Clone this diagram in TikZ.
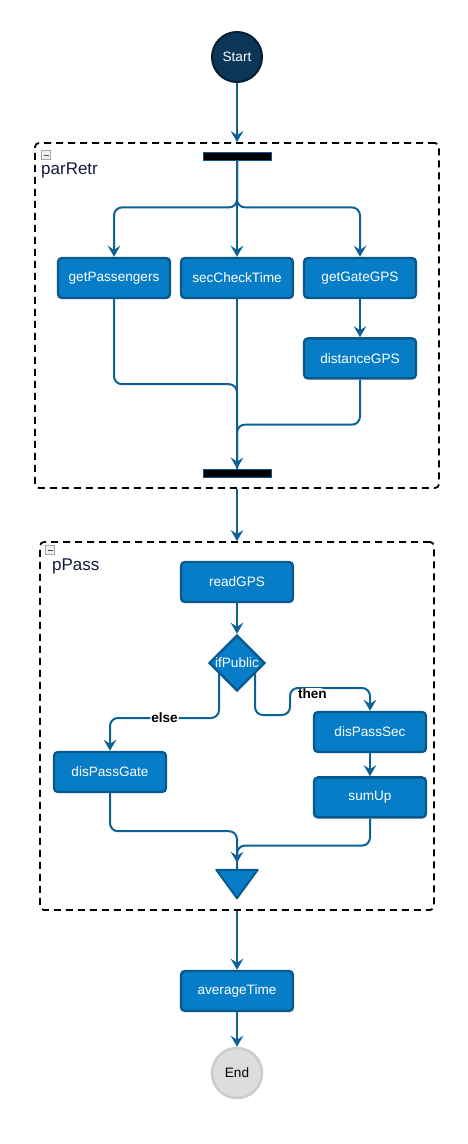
\documentclass[tikz,border=0pt]{standalone}
\usepackage{fontspec}
\setmainfont{Liberation Sans}
\usepackage{tikz}
\usetikzlibrary{shapes.geometric,arrows.meta,positioning,calc}
\definecolor{actfill}{RGB}{8,125,199}
\definecolor{actdraw}{RGB}{10,88,140}
\definecolor{flow}{RGB}{12,98,150}
\definecolor{startfill}{RGB}{12,54,88}
\definecolor{startdraw}{RGB}{6,30,48}
\definecolor{endfill}{RGB}{221,221,221}
\definecolor{enddraw}{RGB}{204,204,204}
\definecolor{lbltext}{RGB}{20,24,60}
\tikzset{
  abox/.style={rectangle, draw=actdraw, fill=actfill, line width=2.4pt, rounded corners=4pt,
               minimum width=112pt, minimum height=40pt, text=white,
               font=\fontsize{13.6}{15}\selectfont},
  bar/.style={rectangle, fill=black, draw=actdraw, line width=0.8pt, inner sep=0pt,
              minimum width=68pt, minimum height=8pt},
  arr/.style={-{Stealth[length=11pt,width=12.5pt,inset=4pt]}, line width=2pt, color=flow},
  flowline/.style={line width=2pt, color=flow},
}
\begin{document}
\begin{tikzpicture}[x=1pt, y=-1pt,
    frame/.style={rectangle, draw=black, line width=1.8pt, dash pattern=on 7pt off 5pt,
                  rounded corners=4pt, inner sep=0pt},
    framelbl/.style={anchor=west, text=lbltext, inner sep=0pt, font=\fontsize{17}{19}\selectfont},
    fold/.style={rectangle, fill=gray!12, draw=gray!70, line width=0.6pt, minimum size=9pt, inner sep=0pt,
                 path picture={\draw[line width=1pt, gray!60!black]
                   ([xshift=2pt]path picture bounding box.west) -- ([xshift=-2pt]path picture bounding box.east);}},
    decision/.style={diamond, draw=actdraw, fill=actfill, line width=2.4pt, inner sep=0pt,
                     minimum width=56pt, minimum height=56pt},
    guard/.style={fill=white, text=black, inner sep=1pt, font=\bfseries\fontsize{13.6}{15}\selectfont}
  ]
    \useasboundingbox (0,0) rectangle (467,1144);
    % start / end
    \node[circle, draw=startdraw, fill=startfill, line width=2pt, minimum size=50pt, inner sep=0pt,
          text=white, font=\fontsize{13.6}{15}\selectfont] (start) at (237,57) {Start};

    % parRetr block
    \node[frame, minimum width=404pt, minimum height=345pt] (parretr) at (237,315.5) {};
    \node[fold] (foldretr) at (46,155) {};
    \node[framelbl] (parretrlbl) at (41,170) {parRetr};
    \node[bar] (fork) at (237,156) {};
    \node[abox] (getpass) at (114,278) {getPassengers};
    \node[abox] (sectime) at (237,278) {secCheckTime};
    \node[abox] (getgate) at (360,278) {getGateGPS};
    \node[abox, below=38pt of getgate] (dist) {distanceGPS};
    \node[bar] (join) at (237,473) {};

    \draw[arr] (start) -- (parretr.north);
    \draw[arr, rounded corners=8pt] (fork.south) -- ++(0,47) -| (getpass.north);
    \draw[arr] (fork.south) -- (sectime.north);
    \draw[arr, rounded corners=8pt] (fork.south) -- ++(0,47) -| (getgate.north);
    \draw[arr] (getgate) -- (dist);
    \draw[flowline, rounded corners=8pt] (getpass.south) -- ++(0,85) -| (join.north);
    \draw[flowline, rounded corners=8pt] (dist.south) -- ++(0,45) -| (join.north);
    \draw[arr] (sectime.south) -- (join.north);

    % pPass block
    \node[frame, minimum width=394pt, minimum height=368pt] (ppass) at (237,726) {};
    \node[fold] (foldpass) at (50,550) {};
    \node[framelbl] (ppasslbl) at (52,566) {pPass};
    \node[abox] (readgps) at (237,582) {readGPS};
    \node[decision, label={[text=white, font=\fontsize{13.6}{15}\selectfont]center:ifPublic}] (ifpub) at (237,663) {};
    \node[abox] (dispassgate) at (110,772) {disPassGate};
    \node[abox] (dispasssec) at (370,732) {disPassSec};
    \node[abox, below=23pt of dispasssec] (sumup) {sumUp};
    \node[minimum width=41pt, minimum height=28pt, inner sep=0pt] (merge) at (237,884) {};
    \draw[draw=actdraw, fill=actfill, line width=2pt, line join=round]
      (merge.north west) -- (merge.north east) -- (merge.south) -- cycle;

    \draw[arr] (parretr.south) -- (ppass.north);
    \draw[arr] (readgps) -- (ifpub.north);
    \draw[arr, rounded corners=8pt] ($(ifpub.center)+(-18,10)$) -- ++(0,45) -| (dispassgate.north)
      node[guard, pos=0.25] {else};
    \draw[arr, rounded corners=8pt] ($(ifpub.center)+(18,10)$) -- ++(0,42) -- ++(35,0) -- ++(0,-27)
      -| (dispasssec.north) node[guard, pos=0.14, yshift=-6pt] {then};
    \draw[arr] (dispasssec) -- (sumup);
    \draw[arr, rounded corners=8pt, shorten >=7pt] (dispassgate.south) -- ++(0,38) -| (merge.north);
    \draw[flowline, rounded corners=8pt] (sumup.south) -- ++(0,27) -| (merge.north);

    % tail
    \node[abox] (avg) at (237,991) {averageTime};
    \node[circle, draw=enddraw, fill=endfill, line width=2.5pt, minimum size=50pt, inner sep=0pt,
          font=\fontsize{13.6}{15}\selectfont] (end) at (237,1073) {End};
    \draw[arr] (ppass.south) -- (avg);
    \draw[arr] (avg) -- (end);
  \end{tikzpicture}
\end{document}
